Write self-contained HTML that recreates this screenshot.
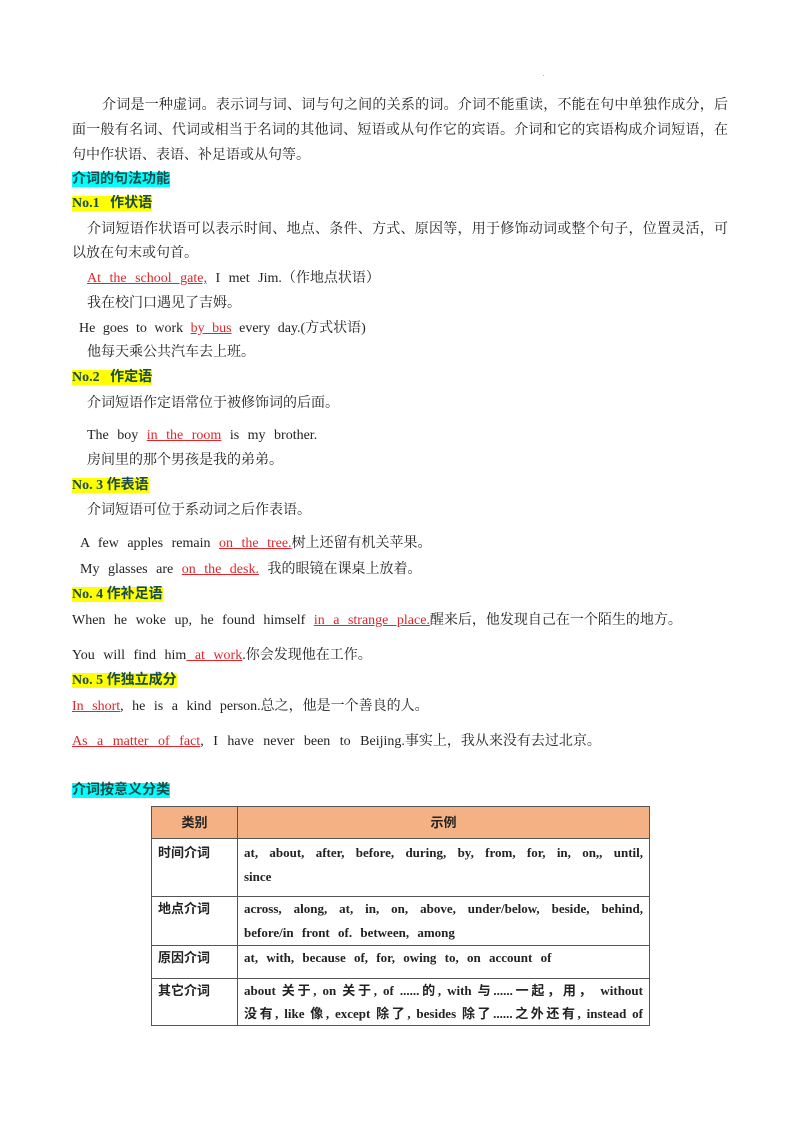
<!DOCTYPE html>
<html><head><meta charset="utf-8"><style>
body{margin:0;width:800px;height:1132px;background:#fff;position:relative;font-family:"Liberation Serif","Noto Serif CJK SC",serif;color:#222;}
.l{position:absolute;font-size:14px;line-height:18px;white-space:nowrap;}
.j{text-align:justify;text-align-last:justify;white-space:normal;}
.r{color:#e0262b;text-decoration:underline;}
.h{font-weight:bold;font-family:"Liberation Serif","Noto Sans CJK SC",sans-serif;color:#1a4a4a;}
.c{background:#00ffff;}
.y{background:#ffff00;}
.ws{word-spacing:5px;}
table{position:absolute;left:151px;top:806px;width:499px;border-collapse:collapse;font-size:13px;font-weight:bold;font-family:"Liberation Serif","Noto Sans CJK SC",sans-serif;}
td{border:1.5px solid #555;vertical-align:top;padding:0 6px;line-height:24px;box-sizing:border-box;}
.th td{background:#f4b183;text-align:center;vertical-align:middle;}
</style></head><body>
<div class="l" style="left:543px;top:66px;font-size:6px">.</div>
<div class="l j" style="left:102px;top:97px;width:626px">介词是一种虚词。表示词与词、词与句之间的关系的词。介词不能重读，不能在句中单独作成分，后</div>
<div class="l j" style="left:72px;top:122px;width:656px">面一般有名词、代词或相当于名词的其他词、短语或从句作它的宾语。介词和它的宾语构成介词短语，在</div>
<div class="l" style="left:72px;top:147px">句中作状语、表语、补足语或从句等。</div>
<div class="l h" style="left:72px;top:171px"><span class="c">介词的句法功能</span></div>
<div class="l h" style="left:72px;top:195px"><span class="y">No.1&nbsp;&nbsp; 作状语</span></div>
<div class="l j" style="left:87px;top:221px;width:641px">介词短语作状语可以表示时间、地点、条件、方式、原因等，用于修饰动词或整个句子，位置灵活，可</div>
<div class="l" style="left:72px;top:245px">以放在句末或句首。</div>
<div class="l ws" style="left:87px;top:270px"><span class="r">At the school gate,</span> I met Jim.（作地点状语）</div>
<div class="l" style="left:87px;top:295px">我在校门口遇见了吉姆。</div>
<div class="l" style="left:79px;top:320px;word-spacing:4px">He goes to work <span class="r">by bus</span> every day.(方式状语)</div>
<div class="l" style="left:87px;top:344px">他每天乘公共汽车去上班。</div>
<div class="l h" style="left:72px;top:369px"><span class="y">No.2&nbsp;&nbsp; 作定语</span></div>
<div class="l" style="left:87px;top:395px">介词短语作定语常位于被修饰词的后面。</div>
<div class="l ws" style="left:87px;top:427px">The boy <span class="r">in the room</span> is my brother.</div>
<div class="l" style="left:87px;top:452px">房间里的那个男孩是我的弟弟。</div>
<div class="l h" style="left:72px;top:477px"><span class="y">No. 3 作表语</span></div>
<div class="l" style="left:87px;top:502px">介词短语可位于系动词之后作表语。</div>
<div class="l ws" style="left:80px;top:535px">A few apples remain <span class="r">on the tree.</span>树上还留有机关苹果。</div>
<div class="l ws" style="left:80px;top:561px">My glasses are <span class="r">on the desk.</span> 我的眼镜在课桌上放着。</div>
<div class="l h" style="left:72px;top:586px"><span class="y">No. 4 作补足语</span></div>
<div class="l ws" style="left:72px;top:612px">When he woke up, he found himself <span class="r">in a strange place.</span>醒来后，他发现自己在一个陌生的地方。</div>
<div class="l ws" style="left:72px;top:647px">You will find him<span class="r"> at work</span>.你会发现他在工作。</div>
<div class="l h" style="left:72px;top:672px"><span class="y">No. 5 作独立成分</span></div>
<div class="l ws" style="left:72px;top:698px"><span class="r">In short</span>, he is a kind person.总之，他是一个善良的人。</div>
<div class="l" style="left:72px;top:733px;word-spacing:6px"><span class="r">As a matter of fact</span>, I have never been to Beijing.事实上，我从来没有去过北京。</div>
<div class="l h" style="left:72px;top:782px"><span class="c">介词按意义分类</span></div>
<table>
<tr class="th" style="height:32px"><td style="width:86px">类别</td><td>示例</td></tr>
<tr style="height:58px"><td style="padding-top:2px">时间介词</td><td class="ws" style="text-align:justify;padding-top:2px">at, about, after, before, during, by, from, for, in, on,, until, since</td></tr>
<tr style="height:49px"><td style="padding-top:0">地点介词</td><td class="ws" style="text-align:justify">across, along, at, in, on, above, under/below, beside, behind, before/in front of. between, among</td></tr>
<tr style="height:33px"><td>原因介词</td><td class="ws">at, with, because of, for, owing to, on account of</td></tr>
<tr style="height:44px"><td style="line-height:23px">其它介词</td><td style="line-height:23px"><div style="text-align:justify;text-align-last:justify">about 关于, on 关于, of ......的, with 与......一起，用， without</div><div style="text-align:justify;text-align-last:justify;white-space:nowrap">没有, like 像, except 除了, besides 除了......之外还有, instead of</div></td></tr>
</table>
</body></html>
